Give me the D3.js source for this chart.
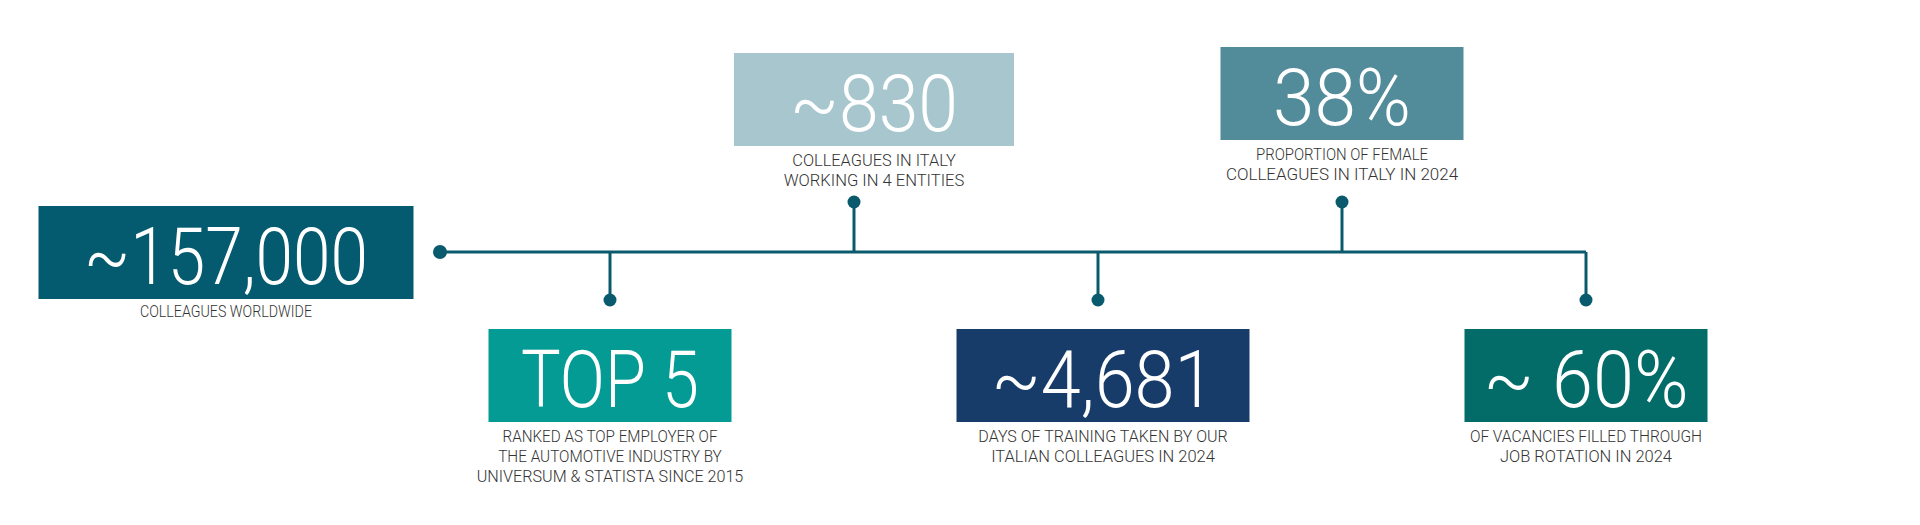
<!DOCTYPE html>
<html><head><meta charset="utf-8">
<script src="https://cdn.jsdelivr.net/npm/d3@7"></script>
<style>body{margin:0;background:#fff}svg{display:block}</style>
</head><body>
<svg id="chart" width="1920" height="525"></svg>
<script>
// figures shown on the timeline
var figures = ["~157,000", "TOP 5", "~830", "~4,681", "38%", "~ 60%"];
var captions = [
  ["COLLEAGUES WORLDWIDE"],
  ["RANKED AS TOP EMPLOYER OF", "THE AUTOMOTIVE INDUSTRY BY", "UNIVERSUM & STATISTA SINCE 2015"],
  ["COLLEAGUES IN ITALY", "WORKING IN 4 ENTITIES"],
  ["DAYS OF TRAINING TAKEN BY OUR", "ITALIAN COLLEAGUES IN 2024"],
  ["PROPORTION OF FEMALE", "COLLEAGUES IN ITALY IN 2024"],
  ["OF VACANCIES FILLED THROUGH", "JOB ROTATION IN 2024"]
];
var sides = ["left", "down", "up", "down", "up", "down"];

var colors = ["#045a6e", "#049b94", "#a8c6ce", "#173c6a", "#528c9b", "#036b68"];
var boxW = [375, 243, 280, 293, 243, 243];
var numW = [284, 178, 168, 223, 138, 205];
var boxOff = [0, 0, 20, 5, 0, 0];
var lineColor = "#0a5a6e";

var svg = d3.select("#chart");
var x = d3.scalePoint().domain([1, 2, 3, 4, 5]).range([610, 1586]);
var lineY = 252, boxH = 93;

// main line
svg.append("line").attr("x1", 440).attr("x2", x(5)).attr("y1", lineY).attr("y2", lineY)
  .attr("stroke", lineColor).attr("stroke-width", 3);
svg.append("circle").attr("cx", 440).attr("cy", lineY).attr("r", 7).attr("fill", lineColor);

figures.forEach(function(f, i) {
  var cx, top, capY;
  if (sides[i] === "left") {
    cx = 226; top = 206; capY = 317;
  } else {
    var sx = x(i);
    var endY = sides[i] === "up" ? 202 : 300;
    svg.append("line").attr("x1", sx).attr("x2", sx).attr("y1", lineY).attr("y2", endY)
      .attr("stroke", lineColor).attr("stroke-width", 3);
    svg.append("circle").attr("cx", sx).attr("cy", endY).attr("r", 6.5).attr("fill", lineColor);
    cx = sx + boxOff[i];
    top = sides[i] === "up" ? (i === 2 ? 53 : 47) : 329;
    capY = top + boxH + 20;
  }
  svg.append("rect").attr("x", cx - boxW[i] / 2).attr("y", top)
    .attr("width", boxW[i]).attr("height", boxH).attr("fill", colors[i]);
  svg.append("text").attr("x", cx).attr("y", top + 78).attr("text-anchor", "middle")
    .attr("fill", "#fff").attr("font-family", "Roboto, sans-serif").attr("font-weight", 300)
    .attr("font-size", 80).attr("textLength", numW[i]).attr("lengthAdjust", "spacingAndGlyphs")
    .text(f);
  captions[i].forEach(function(c, j) {
    svg.append("text").attr("x", cx).attr("y", capY + j * 20).attr("text-anchor", "middle")
      .attr("fill", "#333").attr("font-family", "Roboto, sans-serif").attr("font-weight", 300)
      .attr("font-size", 16).attr("textLength", c.length * 8.6).attr("lengthAdjust", "spacingAndGlyphs")
      .text(c);
  });
});
</script>
</body></html>
